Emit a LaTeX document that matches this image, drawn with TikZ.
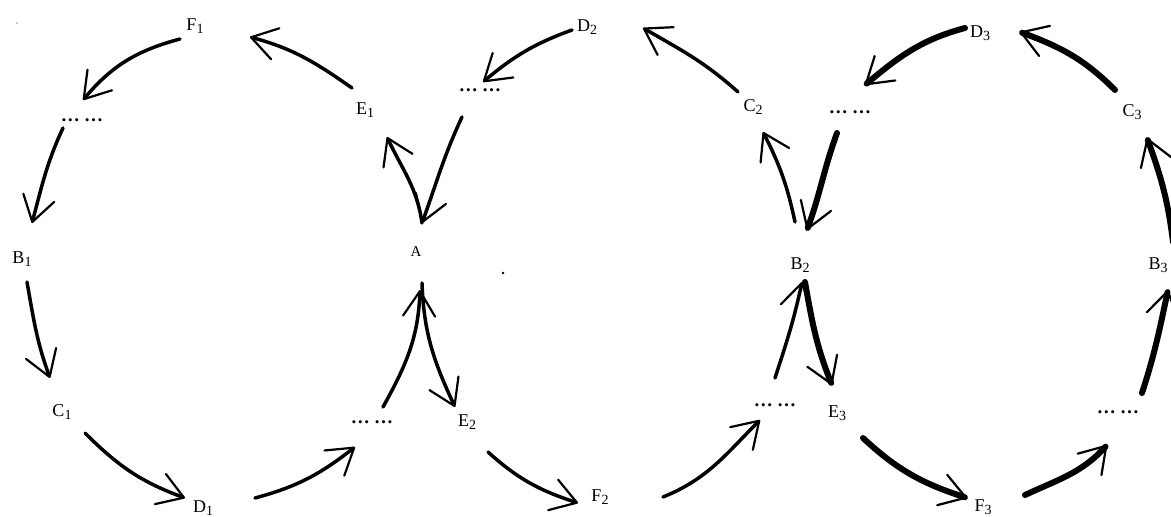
\documentclass[tikz,border=0pt]{standalone}
\usepackage{fontspec}
\setmainfont{Liberation Serif}
\usetikzlibrary{arrows.meta,calc}
\newcommand\subidx[1]{\raisebox{-3.5pt}{\fontsize{14}{14}\selectfont #1}}
\newcommand\dotsgap{\fontsize{19}{19}\selectfont\bfseries …\kern4.5pt…}
\tikzset{
  lbl/.style={font=\fontsize{18}{18}\selectfont, inner sep=0pt, text=black},
  dotslbl/.style={inner sep=0pt, text=black},
  arr/.style={line width=3.5pt, line cap=round,
    -{Straight Barb[length=25pt,width=32pt,line width=2.2pt,round]}},
  arrthick/.style={arr, line width=6pt},
}
\begin{document}
\begin{tikzpicture}[x=1pt,y=1pt]
\useasboundingbox (0,0) rectangle (1171,517);
\clip (0,0) rectangle (1171,517);
\fill[white] (0,0) rectangle (1171,517);

% circle 1
\node[lbl] (F1) at (195,491) {F\subidx{1}};
\node[dotslbl] (dots1) at (82,397) {\dotsgap};
\node[lbl] (B1) at (22,258) {B\subidx{1}};
\node[lbl] (C1) at (62,105) {C\subidx{1}};
\node[lbl] (D1) at (203,9) {D\subidx{1}};
\node[dotslbl] (dotsL) at (372,95) {\dotsgap};
\node[lbl,font=\fontsize{15}{15}\selectfont] (A) at (416,265) {A};
\node[lbl] (E1) at (365,407) {E\subidx{1}};

% circle 2
\node[dotslbl] (dots2) at (480,427) {\dotsgap};
\node[lbl] (D2) at (587,490) {D\subidx{2}};
\node[lbl] (C2) at (753,410) {C\subidx{2}};
\node[lbl] (B2) at (800,252) {B\subidx{2}};
\node[dotslbl] (dotsM) at (775,112) {\dotsgap};
\node[lbl] (F2) at (600,20) {F\subidx{2}};
\node[lbl] (E2) at (467,95) {E\subidx{2}};

% circle 3
\node[dotslbl] (dots3) at (850,405) {\dotsgap};
\node[lbl] (D3) at (980,484) {D\subidx{3}};
\node[lbl] (C3) at (1132,405) {C\subidx{3}};
\node[lbl] (B3) at (1158,252) {B\subidx{3}};
\node[dotslbl] (dotsR) at (1118,105) {\dotsgap};
\node[lbl] (F3) at (983,10) {F\subidx{3}};
\node[lbl] (E3) at (837,104) {E\subidx{3}};

% stray specks
\fill[black] (503,244) circle (1.3);
\fill[black!40] (17,494) circle (0.8);

% circle 1 arrows
\draw[arr] ($(F1)+(-15,-13)$) to[out=195,in=50] ($(dots1)+(1,20)$);
\draw[arr] ($(dots1)+(-19,-8)$) to[out=245,in=75] ($(B1)+(10,36)$);
\draw[arr] ($(B1)+(5,-23)$) to[out=-80,in=110] ($(C1)+(-12,34)$);
\draw[arr] ($(C1)+(23,-21)$) to[out=-45,in=160] ($(D1)+(-18,10)$);
\draw[arr] ($(D1)+(52,10)$) to[out=15,in=218] ($(dotsL)+(-17,-25)$);
\draw[arr] ($(dotsL)+(11,15)$) to[out=61,in=-92] ($(A)+(4,-38)$);
\draw[arr] ($(A)+(6,29)$) to[out=98,in=-65] ($(E1)+(22,-27)$);
\draw[arr] ($(E1)+(-13,22)$) to[out=145,in=-15] ($(F1)+(55,-11)$);

% circle 2 arrows
\draw[arr] ($(dots2)+(-18,-27)$) to[out=245,in=70] ($(A)+(6,29)$);
\draw[arr] ($(D2)+(-15,-3)$) to[out=200,in=40] ($(dots2)+(3,8)$);
\draw[arr] ($(A)+(6,-31)$) to[out=272,in=115] ($(E2)+(-12,15)$);
\draw[arr] ($(E2)+(21,-30)$) to[out=-42,in=162] ($(F2)+(-22,-6)$);
\draw[arr] ($(F2)+(63,0)$) to[out=22,in=225] ($(dotsM)+(-15,-15)$);
\draw[arr] ($(dotsM)+(0,27)$) to[out=72,in=258] ($(B2)+(2,-17)$);
\draw[arr] ($(B2)+(-5,43)$) to[out=102,in=-63] ($(C2)+(10,-25)$);
\draw[arr] ($(C2)+(-15,15)$) to[out=138,in=-30] ($(D2)+(56,-1)$);

% circle 3 arrows
\draw[arrthick] ($(dots3)+(-13,-21)$) to[out=250,in=70] ($(B2)+(7,35)$);
\draw[arrthick] ($(D3)+(-15,5)$) to[out=195,in=40] ($(dots3)+(15,27)$);
\draw[arrthick] ($(C3)+(-17,22)$) to[out=135,in=-20] ($(D3)+(40,1)$);
\draw[arrthick] ($(B3)+(15,23)$) to[out=97,in=-70] ($(C3)+(15,-26)$);
\draw[arrthick] ($(dotsR)+(24,19)$) to[out=72,in=258] ($(B3)+(10,-25)$);
\draw[arrthick] ($(B2)+(5,-17)$) to[out=-80,in=112] ($(E3)+(-5,28)$);
\draw[arrthick] ($(E3)+(26,-25)$) to[out=-43,in=162] ($(F3)+(-16,9)$);
\draw[arrthick] ($(F3)+(42,12)$) to[out=25,in=228] ($(dotsR)+(-11,-33)$);
\end{tikzpicture}
\end{document}
